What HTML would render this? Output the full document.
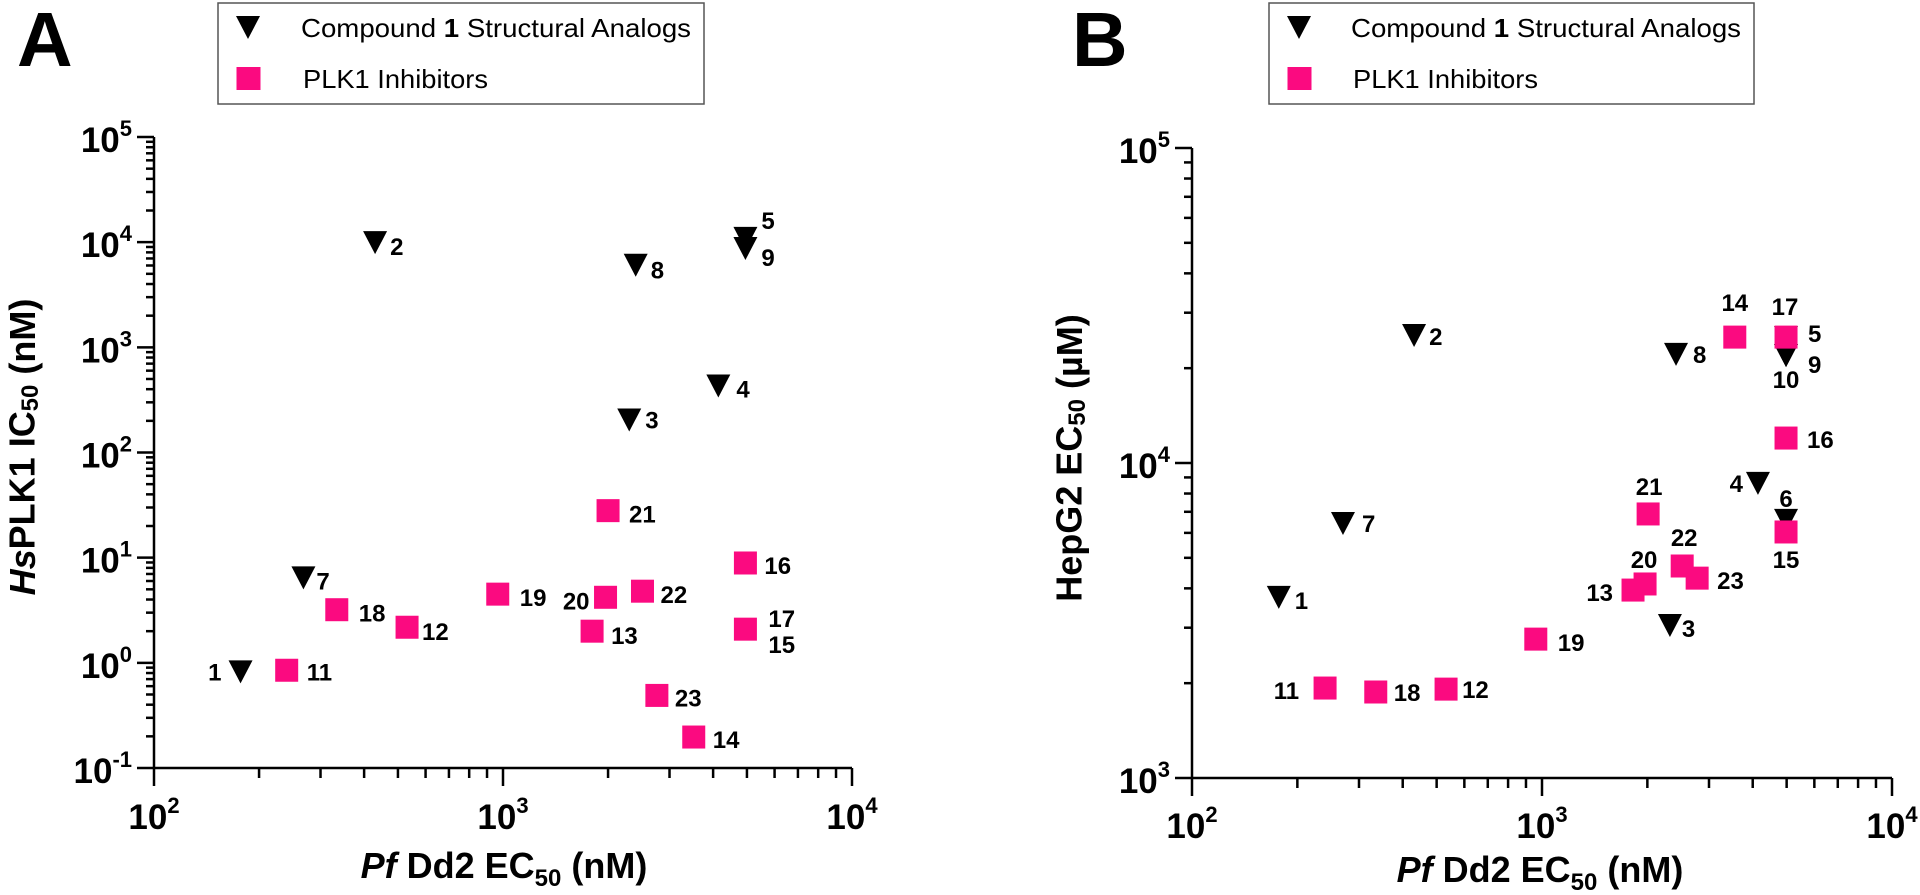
<!DOCTYPE html>
<html><head><meta charset="utf-8">
<style>
html,body{margin:0;padding:0;background:#fff;}
svg{display:block;font-family:"Liberation Sans",Arial,sans-serif;}
.tk{font-weight:bold;font-size:35px;}
.sup{font-size:22px;}
.lbl{font-weight:bold;font-size:24px;}
.ttl{font-weight:bold;font-size:36px;}
.leg{font-size:26px;}
</style></head>
<body>
<svg id="chart" width="1920" height="895" viewBox="0 0 1920 895" xmlns="http://www.w3.org/2000/svg"></svg>
<script>
// ---------- Panel A data ----------
const aTriLabels = ["1","2","8","3","7","4","5","9"];
const aTriX = [177, 430, 2400, 2300, 268, 4140, 4950, 4950];
const aTriY = [0.83, 10000, 6100, 206, 6.5, 434, 11000, 8800];
const aSqLabels = ["11","18","12","19","20","22","13","21","23","14","16","17"];
const aSqX = [240, 334, 531, 966, 1967, 2510, 1800, 2000, 2760, 3520, 4950, 4950];
const aSqY = [0.85, 3.2, 2.18, 4.5, 4.2, 4.8, 2.0, 28, 0.49, 0.197, 8.9, 2.09];
// label placement (presentation): [dx, dy, anchor]
const aTriLabelPos = [[-19,9,"end"],[15,13,"start"],[15,14,"start"],[16,9,"start"],[13,12,"start"],[18,12,"start"],[16,-9,"start"],[16,18,"start"]];
const aSqLabelPos = [[20,10,"start"],[22,12,"start"],[15,13,"start"],[22,12,"start"],[-16,12,"end"],[18,12,"start"],[19,13,"start"],[21,12,"start"],[18,11,"start"],[19,11,"start"],[19,11,"start"],[23,-2,"start"]];
const aExtraLabels = ["15"];
// ---------- Panel B data ----------
const bTriLabels = ["2","7","1","3","6","4","5","9","10","8"];
const bTriX = [431, 270, 177, 2320, 4980, 4140, 4980, 4980, 4980, 2415];
const bTriY = [25500, 6450, 3760, 3060, 6600, 8650, 25100, 22000, 22000, 22200];
const bSqLabels = ["11","18","12","19","13","20","22","23","15","21","16","14","17"];
const bSqX = [240, 335, 532, 960, 1820, 1970, 2515, 2775, 4980, 2010, 4980, 3555, 4980];
const bSqY = [1930, 1875, 1915, 2760, 3950, 4130, 4710, 4310, 6040, 6890, 12000, 25100, 25100];
const bTriLabelPos = [[15,10,"start"],[19,9,"start"],[16,12,"start"],[12,12,"start"],[0,-13,"middle"],[-15,9,"end"],[22,5,"start"],[22,18,"start"],[0,33,"middle"],[17,9,"start"]];
const bSqLabelPos = [[-26,11,"end"],[18,9,"start"],[16,9,"start"],[22,12,"start"],[-20,11,"end"],[-1,-16,"middle"],[2,-20,"middle"],[20,11,"start"],[0,36,"middle"],[1,-19,"middle"],[21,10,"start"],[0,-26,"middle"],[-1,-22,"middle"]];
// tick exponents
const aXTicks = [2,3,4];
const aYTicks = [-1,0,1,2,3,4,5];
const bXTicks = [2,3,4];
const bYTicks = [3,4,5];

const NS="http://www.w3.org/2000/svg";
const svg=document.getElementById("chart");
function mk(tag,attrs,parent){const e=document.createElementNS(NS,tag);for(const k in attrs)e.setAttribute(k,attrs[k]);(parent||svg).appendChild(e);return e;}

function logScale(d0,d1,r0,r1){return v=>r0+(Math.log10(v)-d0)/(d1-d0)*(r1-r0);}

const PINK="#fb0a80";

function panel(cfg){
  const g=mk("g",{});
  
  
  const X=logScale(cfg.xd[0],cfg.xd[1],cfg.x0,cfg.x1);
  const Y=logScale(cfg.yd[0],cfg.yd[1],cfg.y0,cfg.y1);
  const ax=mk("g",{stroke:"#000","stroke-width":2.5,fill:"none"},g);
  
  
  mk("line",{x1:cfg.x0,y1:cfg.y0+1,x2:cfg.x0,y2:cfg.y1},ax);
  for(let e=cfg.yd[0];e<=cfg.yd[1];e++){
    mk("line",{x1:cfg.x0-17,y1:Y(Math.pow(10,e)),x2:cfg.x0,y2:Y(Math.pow(10,e))},ax);
    if(e<cfg.yd[1]) for(let m=2;m<=9;m++){const yy=Y(m*Math.pow(10,e));mk("line",{x1:cfg.x0-8,y1:yy,x2:cfg.x0,y2:yy},ax);}
  }
  const axx=mk("g",{stroke:"#000","stroke-width":2.5,fill:"none"},g);
  
  
  mk("line",{x1:cfg.x0-1,y1:cfg.y0,x2:cfg.x1,y2:cfg.y0},axx);
  for(let e=cfg.xd[0];e<=cfg.xd[1];e++){
    mk("line",{x1:X(Math.pow(10,e)),y1:cfg.y0,x2:X(Math.pow(10,e)),y2:cfg.y0+18},axx);
    if(e<cfg.xd[1]) for(let m=2;m<=9;m++){const xx=X(m*Math.pow(10,e));mk("line",{x1:xx,y1:cfg.y0,x2:xx,y2:cfg.y0+10},axx);}
  }
  cfg.yTicks.forEach(e=>{
    const t=mk("text",{x:cfg.x0-22,y:Y(Math.pow(10,e))+15,"text-anchor":"end",class:"tk"},g);
    
    
    t.appendChild(document.createTextNode("10"));
    const s=mk("tspan",{class:"sup",dy:-16},t);s.textContent=String(e);
  });
  cfg.xTicks.forEach(e=>{
    const t=mk("text",{x:X(Math.pow(10,e)),y:cfg.y0+cfg.xlOff,"text-anchor":"middle",class:"tk"},g);
    
    
    t.appendChild(document.createTextNode("10"));
    const s=mk("tspan",{class:"sup",dy:-16},t);s.textContent=String(e);
  });
  cfg.triX.forEach((v,i)=>{
    const cx=X(v),cy=Y(cfg.triY[i]);
    const p=mk("polygon",{points:`${cx-12},${cy-11} ${cx+12},${cy-11} ${cx},${cy+12}`,fill:"#000"},g);
    
    
  });
  cfg.sqX.forEach((v,i)=>{
    const cx=X(v),cy=Y(cfg.sqY[i]);
    const r=mk("rect",{x:cx-11.5,y:cy-11.5,width:23,height:23,fill:PINK},g);
    
    
  });
  function label(txt,cx,cy,pos){
    const t=mk("text",{x:cx+pos[0],y:cy+pos[1],"text-anchor":pos[2],class:"lbl"},g);
    
    
    t.textContent=txt;
  }
  cfg.triX.forEach((v,i)=>label(cfg.triLabels[i],X(v),Y(cfg.triY[i]),cfg.triPos[i]));
  cfg.sqX.forEach((v,i)=>label(cfg.sqLabels[i],X(v),Y(cfg.sqY[i]),cfg.sqPos[i]));
  if(cfg.extra){const i=cfg.sqLabels.length-1;label(cfg.extra[0],X(cfg.sqX[i]),Y(cfg.sqY[i]),[23,24,"start"]);}
  return {X,Y,g};
}

panel({name:"panel-a",xd:[2,4],yd:[-1,5],x0:154,x1:852,y0:768,y1:137,xlOff:61,
  xTicks:aXTicks,yTicks:aYTicks,triX:aTriX,triY:aTriY,triLabels:aTriLabels,triPos:aTriLabelPos,
  sqX:aSqX,sqY:aSqY,sqLabels:aSqLabels,sqPos:aSqLabelPos,extra:aExtraLabels});
panel({name:"panel-b",xd:[2,4],yd:[3,5],x0:1192,x1:1892,y0:778,y1:148,xlOff:60,
  xTicks:bXTicks,yTicks:bYTicks,triX:bTriX,triY:bTriY,triLabels:bTriLabels,triPos:bTriLabelPos,
  sqX:bSqX,sqY:bSqY,sqLabels:bSqLabels,sqPos:bSqLabelPos});

function txt(name,attrs,html){const t=mk("text",attrs);t.innerHTML=html;return t;}
txt("panel-a-letter",{x:17,y:66,"font-size":77,"font-weight":"bold"},"A");
txt("panel-b-letter",{x:1072,y:66,"font-size":77,"font-weight":"bold"},"B");
txt("panel-a-y-axis-title",{x:22,y:447,"text-anchor":"middle","dominant-baseline":"central",class:"ttl",transform:"rotate(-90 22 447)"},
 '<tspan font-style="italic">Hs</tspan>PLK1 IC<tspan font-size="24" dy="8">50</tspan><tspan dy="-8">  (nM)</tspan>');
txt("panel-b-y-axis-title",{x:1069,y:458,"text-anchor":"middle","dominant-baseline":"central",class:"ttl",transform:"rotate(-90 1069 458)"},
 'HepG2 EC<tspan font-size="24" dy="8">50</tspan><tspan dy="-8"> (µM)</tspan>');
txt("panel-a-x-axis-title",{x:504,y:878,"text-anchor":"middle",class:"ttl"},
 '<tspan font-style="italic">Pf</tspan> Dd2 EC<tspan font-size="24" dy="8">50</tspan><tspan dy="-8"> (nM)</tspan>');
txt("panel-b-x-axis-title",{x:1540,y:882,"text-anchor":"middle",class:"ttl"},
 '<tspan font-style="italic">Pf</tspan> Dd2 EC<tspan font-size="24" dy="8">50</tspan><tspan dy="-8"> (nM)</tspan>');

function legend(name,x0,x1,mx,tx){
  const g=mk("g",{});
  
  
  mk("rect",{x:x0,y:3,width:x1-x0,height:101,fill:"#fff",stroke:"#555","stroke-width":1.5},g);
  const tri=mk("polygon",{points:`${mx-12},${16} ${mx+12},${16} ${mx},${39}`,fill:"#000"},g);
  
  
  const sq=mk("rect",{x:mx-11.5,y:67,width:24,height:23,fill:PINK},g);
  
  
  const t1=mk("text",{x:tx,y:37,class:"leg",textLength:390,lengthAdjust:"spacingAndGlyphs"},g);
  
  
  t1.innerHTML='Compound <tspan font-weight="bold">1</tspan> Structural Analogs';
  const t2=mk("text",{x:tx+2,y:88,class:"leg",textLength:185,lengthAdjust:"spacingAndGlyphs"},g);
  
  
  t2.textContent='PLK1 Inhibitors';
}
legend("panel-a-legend",218,704,248,301);
legend("panel-b-legend",1269,1754,1299,1351);
</script>
</body></html>
